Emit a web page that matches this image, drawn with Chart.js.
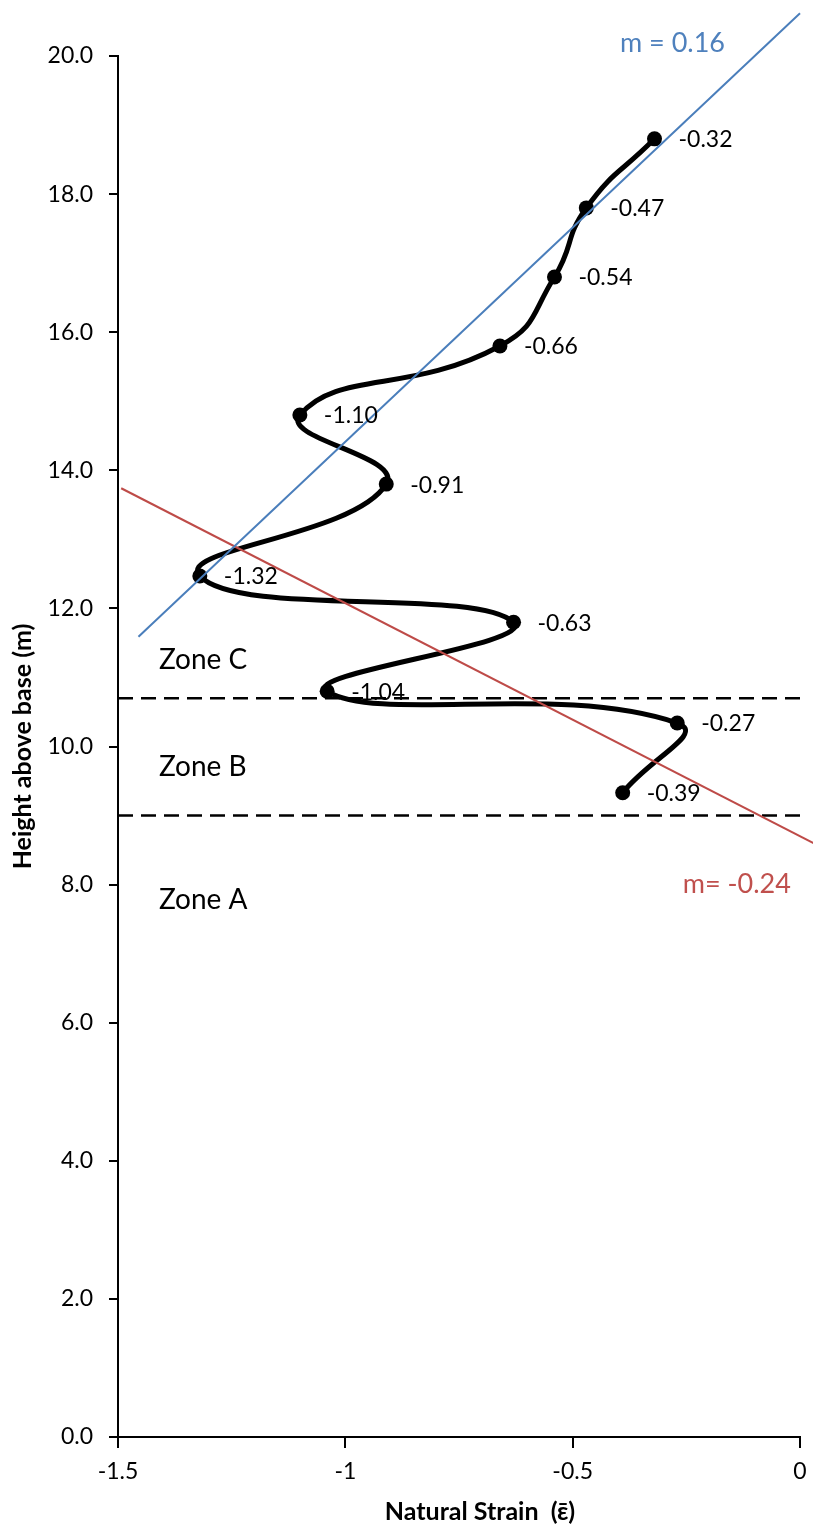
<!DOCTYPE html>
<html>
<head>
<meta charset="utf-8">
<title>Natural strain vs height above base</title>
<script src="https://cdn.jsdelivr.net/npm/chart.js@4/dist/chart.umd.min.js"></script>
<style>
  html, body { margin: 0; padding: 0; background: #ffffff; }
  #wrap { width: 813px; height: 1528px; }
</style>
</head>
<body>
<div id="wrap"><canvas id="chart" width="813" height="1528"></canvas></div>
<script>
// Measured natural strain (x) at each sampled height above the base (y, metres)
const strain = [-0.32, -0.47, -0.54, -0.66, -1.10, -0.91, -1.32, -0.63, -1.04, -0.27, -0.39];
const height = [18.8, 17.8, 16.8, 15.8, 14.8, 13.8, 12.47, 11.8, 10.8, 10.34, 9.33];

// Zone boundaries (m): C/B and B/A
const zoneBounds = [10.7, 9.0];
const zoneSpan = [-1.5, 0.005];

// Linear fits drawn across the profile
const fitUpperX = [-1.455, 0];
const fitUpperY = [11.59, 20.62];
const fitLowerX = [-1.493, 0.03];
const fitLowerY = [13.74, 8.60];

// Axis ticks
const xTicks = [-1.5, -1, -0.5, 0];
const yTicks = [0, 2, 4, 6, 8, 10, 12, 14, 16, 18, 20];

// Text notes placed in data coordinates
const notes = [
  { text: 'Zone C',   x: -1.41,  y: 11.25, color: '#000000', size: 28 },
  { text: 'Zone B',   x: -1.41,  y: 9.70,  color: '#000000', size: 28 },
  { text: 'Zone A',   x: -1.41,  y: 7.78,  color: '#000000', size: 28 },
  { text: 'm = 0.16', x: -0.396, y: 20.19, color: '#4F81BD', size: 27 },
  { text: 'm= -0.24', x: -0.258, y: 8.01,  color: '#C0504D', size: 27 }
];

const FONT = 'Lato, "Liberation Sans", sans-serif';

const toPoints = (xs, ys) => xs.map((x, i) => ({ x: x, y: ys[i] }));

// Horizontal zone boundary lines
const boundaryDatasets = zoneBounds.map(b => ({
  label: 'boundary ' + b,
  data: zoneSpan.map(x => ({ x: x, y: b })),
  showLine: true,
  borderColor: '#000000',
  borderWidth: 2.5,
  borderDash: [15, 8],
  pointRadius: 0,
  order: 3,
  clip: false
}));

// Point labels showing each strain value beside its marker
const pointLabels = {
  id: 'pointLabels',
  afterDatasetsDraw(chart) {
    const meta = chart.getDatasetMeta(0);
    const ds = chart.data.datasets[0];
    const ctx = chart.ctx;
    ctx.save();
    ctx.font = '23px ' + FONT;
    ctx.fillStyle = '#000000';
    ctx.textAlign = 'left';
    ctx.textBaseline = 'middle';
    meta.data.forEach((pt, i) => {
      ctx.fillText(ds.data[i].x.toFixed(2), pt.x + 24, pt.y + 1);
    });
    ctx.restore();
  }
};

// Free text notes and axis titles
const textNotes = {
  id: 'textNotes',
  afterDraw(chart) {
    const ctx = chart.ctx;
    const xs = chart.scales.x, ys = chart.scales.y;
    const area = chart.chartArea;
    ctx.save();
    ctx.textAlign = 'left';
    ctx.textBaseline = 'middle';
    notes.forEach(n => {
      ctx.font = n.size + 'px ' + FONT;
      ctx.fillStyle = n.color;
      ctx.fillText(n.text, xs.getPixelForValue(n.x), ys.getPixelForValue(n.y));
    });
    // axis titles
    ctx.fillStyle = '#000000';
    ctx.font = 'bold 25px ' + FONT;
    ctx.textAlign = 'center';
    ctx.fillText('Natural Strain  (\u03B5\u0304)', 480, 1512);
    ctx.translate(23, (area.top + area.bottom) / 2);
    ctx.rotate(-Math.PI / 2);
    ctx.fillText('Height above base (m)', 0, 0);
    ctx.restore();
  }
};

new Chart(document.getElementById('chart'), {
  type: 'scatter',
  data: {
    datasets: [
      {
        label: 'Natural strain',
        data: toPoints(strain, height),
        showLine: true,
        tension: 0.5,
        borderColor: '#000000',
        borderWidth: 5,
        pointRadius: 7.5,
        pointBackgroundColor: '#000000',
        pointBorderColor: '#000000',
        pointBorderWidth: 0,
        order: 2
      },
      {
        label: 'Fit (upper)',
        data: toPoints(fitUpperX, fitUpperY),
        showLine: true,
        borderColor: '#4A7EBB',
        borderWidth: 2,
        pointRadius: 0,
        order: 1,
        clip: false
      },
      {
        label: 'Fit (lower)',
        data: toPoints(fitLowerX, fitLowerY),
        showLine: true,
        borderColor: '#BE4B48',
        borderWidth: 2,
        pointRadius: 0,
        order: 1,
        clip: false
      },
      ...boundaryDatasets
    ]
  },
  options: {
    responsive: false,
    animation: false,
    devicePixelRatio: 1,
    layout: { padding: { top: 56, right: 13, left: 0, bottom: 0 } },
    plugins: {
      legend: { display: false },
      tooltip: { enabled: false }
    },
    scales: {
      x: {
        type: 'linear',
        min: -1.5,
        max: 0,
        afterBuildTicks(scale) { scale.ticks = xTicks.map(v => ({ value: v })); },
        afterFit(scale) { scale.height = 91; scale.paddingLeft = 0; scale.paddingRight = 0; },
        border: { display: true, color: '#000000', width: 2 },
        grid: { display: true, drawOnChartArea: false, drawTicks: true, tickLength: 11, color: '#000000', lineWidth: 2 },
        ticks: {
          color: '#000000',
          font: { family: FONT, size: 23 },
          padding: 10,
          maxRotation: 0,
          callback: v => String(v)
        }
      },
      y: {
        type: 'linear',
        min: 0,
        max: 20,
        afterBuildTicks(scale) { scale.ticks = yTicks.map(v => ({ value: v })); },
        afterFit(scale) { scale.width = 118; scale.paddingTop = 0; scale.paddingBottom = 0; },
        border: { display: true, color: '#000000', width: 2 },
        grid: { display: true, drawOnChartArea: false, drawTicks: true, tickLength: 9, color: '#000000', lineWidth: 2 },
        ticks: {
          color: '#000000',
          font: { family: FONT, size: 23 },
          padding: 16,
          callback: v => v.toFixed(1)
        }
      }
    }
  },
  plugins: [pointLabels, textNotes]
});
</script>
</body>
</html>
